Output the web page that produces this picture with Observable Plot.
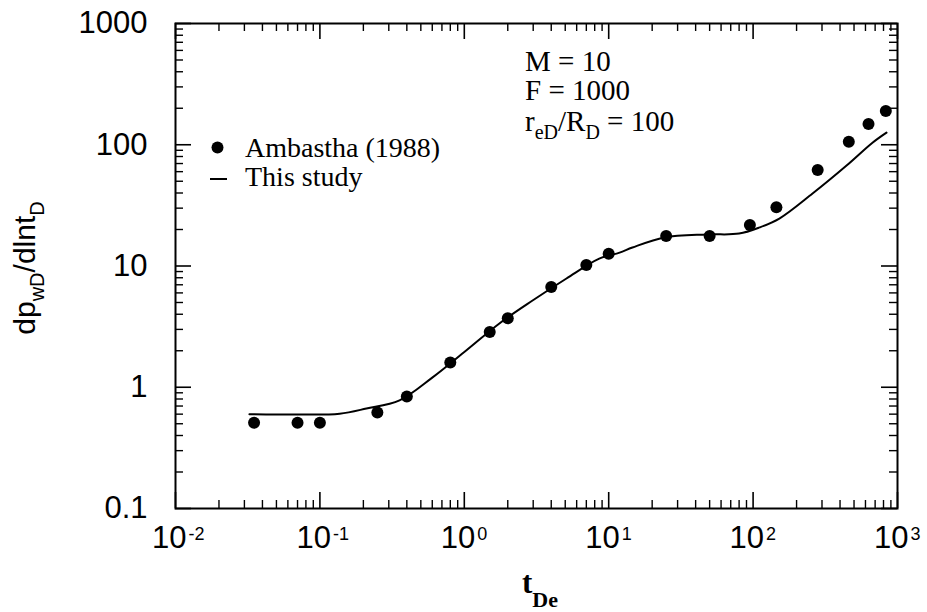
<!DOCTYPE html>
<html>
<head>
<meta charset="utf-8">
<script src="https://cdn.jsdelivr.net/npm/d3@7"></script>
<script src="https://cdn.jsdelivr.net/npm/@observablehq/plot@0.6"></script>
<style>
  html, body { margin: 0; padding: 0; background: #fff; }
</style>
</head>
<body>
<div id="chart"></div>
<script>
// Ambastha (1988): dimensionless time t_De and pressure derivative
const ambT = [0.035, 0.07, 0.1, 0.25, 0.4, 0.8, 1.5, 2.0, 4.0, 7.0, 10, 25, 50, 95, 145, 280, 460, 630, 830];
const ambD = [0.51, 0.51, 0.51, 0.62, 0.84, 1.6, 2.85, 3.7, 6.7, 10.2, 12.6, 17.7, 17.7, 21.8, 30.5, 62, 106, 148, 190];

// This study: computed derivative curve
const studyT = [0.0325, 0.072, 0.137, 0.21, 0.356, 0.60, 1.03, 1.75, 2.97, 5.1, 8.6, 11.9, 14.6, 24.3, 48, 80, 111, 152, 258, 444, 671, 839];
const studyD = [0.60, 0.595, 0.605, 0.668, 0.78, 1.2, 2.01, 3.36, 5.19, 7.89, 11.5, 12.9, 14.2, 17.2, 18.2, 18.5, 20.8, 24.6, 39.6, 67.4, 104, 126];

// Axis decades and labels
const xDecades = [0.01, 0.1, 1, 10, 100, 1000];
const xExponents = ["-2", "-1", "0", "1", "2", "3"];
const yDecades = [0.1, 1, 10, 100, 1000];
const yLabels = ["0.1", "1", "10", "100", "1000"];
const minorSteps = [2, 3, 4, 5, 6, 7, 8, 9];

const ambastha = ambT.map((t, i) => ({t, d: ambD[i]}));
const study = studyT.map((t, i) => ({t, d: studyD[i]}));
const xMinor = xDecades.slice(0, -1).flatMap(d => minorSteps.map(k => d * k));
const yMinor = yDecades.slice(0, -1).flatMap(d => minorSteps.map(k => d * k));

const W = 927, H = 612;
const mL = 175, mR = 30, mT = 23, mB = 104;
const fw = W - mL - mR, fh = H - mT - mB;
const SANS = "'Liberation Sans', Arial, Helvetica, sans-serif";
const SERIF = "'Liberation Serif', 'Times New Roman', serif";

// Text with sub-scripted runs, placed relative to the plot frame
function richText(runs, {left, top, anchor = "start", rotate = 0, family = SERIF, size = 29, subSize = 20, shift = 10, weight = "normal"}) {
  return (index, scales, values, dims) => {
    const x = dims.marginLeft + left, y = dims.marginTop + top;
    const t = d3.create("svg:text")
      .attr("transform", `translate(${x},${y})` + (rotate ? ` rotate(${rotate})` : ""))
      .attr("text-anchor", anchor)
      .attr("font-family", family)
      .attr("font-size", size)
      .attr("font-weight", weight)
      .attr("fill", "black");
    let down = 0;
    for (const r of runs) {
      const s = t.append("tspan").text(r.text);
      if (r.sub) {
        s.attr("font-size", subSize).attr("dy", shift - down);
        if (r.weight) s.attr("font-weight", r.weight);
        down = shift;
      } else if (down) {
        s.attr("dy", -down);
        down = 0;
      }
    }
    return t.node();
  };
}

// Short horizontal stroke used as the legend key for the curve
function legendStroke({left, top, length}) {
  return (index, scales, values, dims) => d3.create("svg:line")
    .attr("x1", dims.marginLeft + left).attr("x2", dims.marginLeft + left + length)
    .attr("y1", dims.marginTop + top).attr("y2", dims.marginTop + top)
    .attr("stroke", "black").attr("stroke-width", 2)
    .node();
}

const tickLen = 16, minorLen = 8;

const chart = Plot.plot({
  width: W,
  height: H,
  marginLeft: mL,
  marginRight: mR,
  marginTop: mT,
  marginBottom: mB,
  style: {background: "#fff", color: "black"},
  x: {type: "log", domain: [0.01, 1000], axis: null},
  y: {type: "log", domain: [0.1, 1000], axis: null},
  marks: [
    // inward ticks on all four sides
    Plot.tickX(xDecades, {x: d => d, insetTop: fh - tickLen, strokeWidth: 1.6}),
    Plot.tickX(xDecades, {x: d => d, insetBottom: fh - tickLen, strokeWidth: 1.6}),
    Plot.tickX(xMinor, {x: d => d, insetTop: fh - minorLen, strokeWidth: 1.4}),
    Plot.tickX(xMinor, {x: d => d, insetBottom: fh - minorLen, strokeWidth: 1.4}),
    Plot.tickY(yDecades, {y: d => d, insetRight: fw - tickLen, strokeWidth: 1.6}),
    Plot.tickY(yDecades, {y: d => d, insetLeft: fw - tickLen, strokeWidth: 1.6}),
    Plot.tickY(yMinor, {y: d => d, insetRight: fw - minorLen, strokeWidth: 1.4}),
    Plot.tickY(yMinor, {y: d => d, insetLeft: fw - minorLen, strokeWidth: 1.4}),
    Plot.frame({stroke: "black", strokeWidth: 2}),

    // tick labels
    Plot.text(yDecades, {y: d => d, text: (d, i) => yLabels[i], frameAnchor: "left", dx: -28, textAnchor: "end",
      fontSize: 31, fontFamily: SANS, fill: "black"}),
    Plot.text(xDecades, {x: d => d, text: () => "10", frameAnchor: "bottom", dx: 11, dy: 39, textAnchor: "end",
      fontSize: 31, fontFamily: SANS, fill: "black"}),
    Plot.text(xDecades, {x: d => d, text: (d, i) => xExponents[i], frameAnchor: "bottom", dx: 13, dy: 31, textAnchor: "start",
      fontSize: 18, fontFamily: SANS, fill: "black"}),

    // data
    Plot.line(study, {x: "t", y: "d", stroke: "black", strokeWidth: 2, curve: "catmull-rom"}),
    Plot.dot(ambastha, {x: "t", y: "d", r: 6, fill: "black", stroke: "none"}),

    // legend
    Plot.dot([0], {frameAnchor: "top-left", dx: 42, dy: 124, r: 6, fill: "black", stroke: "none"}),
    legendStroke({left: 35, top: 156, length: 17}),
    richText([{text: "Ambastha (1988)"}], {left: 70, top: 134, size: 28}),
    richText([{text: "This study"}], {left: 70, top: 163, size: 28}),

    // parameters
    richText([{text: "M = 10"}], {left: 350, top: 48}),
    richText([{text: "F = 1000"}], {left: 350, top: 77}),
    richText([{text: "r"}, {text: "eD", sub: true}, {text: "/R"}, {text: "D", sub: true}, {text: " = 100"}],
      {left: 350, top: 108, subSize: 20, shift: 8}),

    // axis titles
    richText([{text: "dp"}, {text: "wD", sub: true}, {text: "/dlnt"}, {text: "D", sub: true}],
      {left: 35 - mL, top: 268 - mT, anchor: "middle", rotate: -90, family: SANS, size: 30, subSize: 20, shift: 9}),
    richText([{text: "t"}, {text: "De", sub: true, weight: "bold"}],
      {left: 540 - mL, top: 593 - mT, anchor: "middle", family: SERIF, size: 31, subSize: 22, shift: 14, weight: "bold"})
  ]
});

document.getElementById("chart").append(chart);
</script>
</body>
</html>
